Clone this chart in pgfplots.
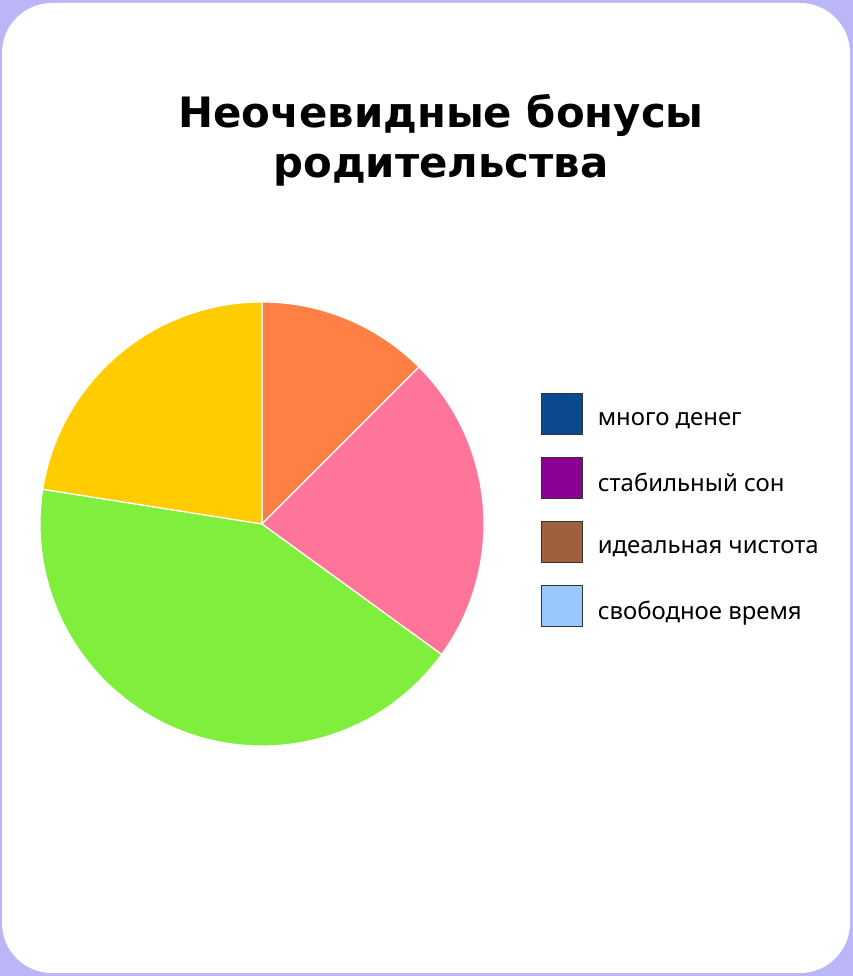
\documentclass[border=0pt]{standalone}
\usepackage{fontspec}
\setmainfont{Noto Sans}
\newfontfamily\titlefont{DejaVu Sans}
\usepackage{pgfplots}
\usepackage{pgfplotstable}
\pgfplotsset{compat=1.18}

\definecolor{bgpurple}{HTML}{BAB6F8}
\definecolor{sliceorange}{HTML}{FF7F45}
\definecolor{slicepink}{HTML}{FF7599}
\definecolor{slicegreen}{HTML}{7FEE3C}
\definecolor{sliceyellow}{HTML}{FFCC00}
\definecolor{legblue}{HTML}{0B4A8F}
\definecolor{legpurple}{HTML}{8B0093}
\definecolor{legbrown}{HTML}{A0603D}
\definecolor{leglight}{HTML}{99C7FF}
\definecolor{legedge}{HTML}{333333}

% slice shares in percent, clockwise from the top
\pgfplotstableread{
share colour
12.5  sliceorange
22.5  slicepink
42.5  slicegreen
22.5  sliceyellow
}\pietable

\begin{document}
\begin{tikzpicture}[x=1bp,y=1bp]
\useasboundingbox (0,0) rectangle (853,976);
\fill[bgpurple] (0,0) rectangle (853,976);
\fill[white, rounded corners=50bp] (2,3) rectangle (850,973);

\node[font=\titlefont\bfseries\fontsize{42}{48}\selectfont, anchor=base]
  at (441,848) {Неочевидные бонусы};
\node[font=\titlefont\bfseries\fontsize{42}{48}\selectfont, anchor=base]
  at (441,798) {родительства};

\begin{axis}[
  at={(262bp,452bp)}, anchor=origin,
  x=222bp, y=222bp,
  xmin=-1, xmax=1, ymin=-1, ymax=1,
  hide axis, clip=false,
  legend image code/.code={\draw[#1] (0bp,-15bp) rectangle (41bp,26bp);},
  legend style={
    at={(1.1284,0.795)}, anchor=north west,
    draw=none, fill=none, inner sep=0pt, outer sep=0pt,
    row sep=22.2bp, column sep=15bp,
    nodes={inner sep=0pt, font=\fontsize{24}{26}\selectfont},
  },
  legend cell align=left,
]
\pgfplotsextra{
  \gdef\angA{90}
  \pgfplotstablegetrowsof{\pietable}
  \pgfmathtruncatemacro\lastrow{\pgfplotsretval-1}
  \foreach \i in {0,...,\lastrow} {
    \pgfplotstablegetelem{\i}{share}\of\pietable
    \pgfmathsetmacro\angB{\angA-3.6*\pgfplotsretval}
    \pgfplotstablegetelem{\i}{colour}\of\pietable
    \edef\slicecol{\pgfplotsretval}
    \fill[fill=\slicecol, draw=white, line width=1.2bp, line join=round]
      (axis cs:0,0) -- ++(\angA:222bp)
      arc[start angle=\angA, end angle=\angB, radius=222bp] -- cycle;
    \xdef\angA{\angB}
  }
}
\addlegendimage{draw=legedge, line width=0.8bp, fill=legblue}
\addlegendentry{много денег}
\addlegendimage{draw=legedge, line width=0.8bp, fill=legpurple}
\addlegendentry{стабильный сон}
\addlegendimage{draw=legedge, line width=0.8bp, fill=legbrown}
\addlegendentry{идеальная чистота}
\addlegendimage{draw=legedge, line width=0.8bp, fill=leglight}
\addlegendentry{свободное время}
\end{axis}
\end{tikzpicture}
\end{document}
